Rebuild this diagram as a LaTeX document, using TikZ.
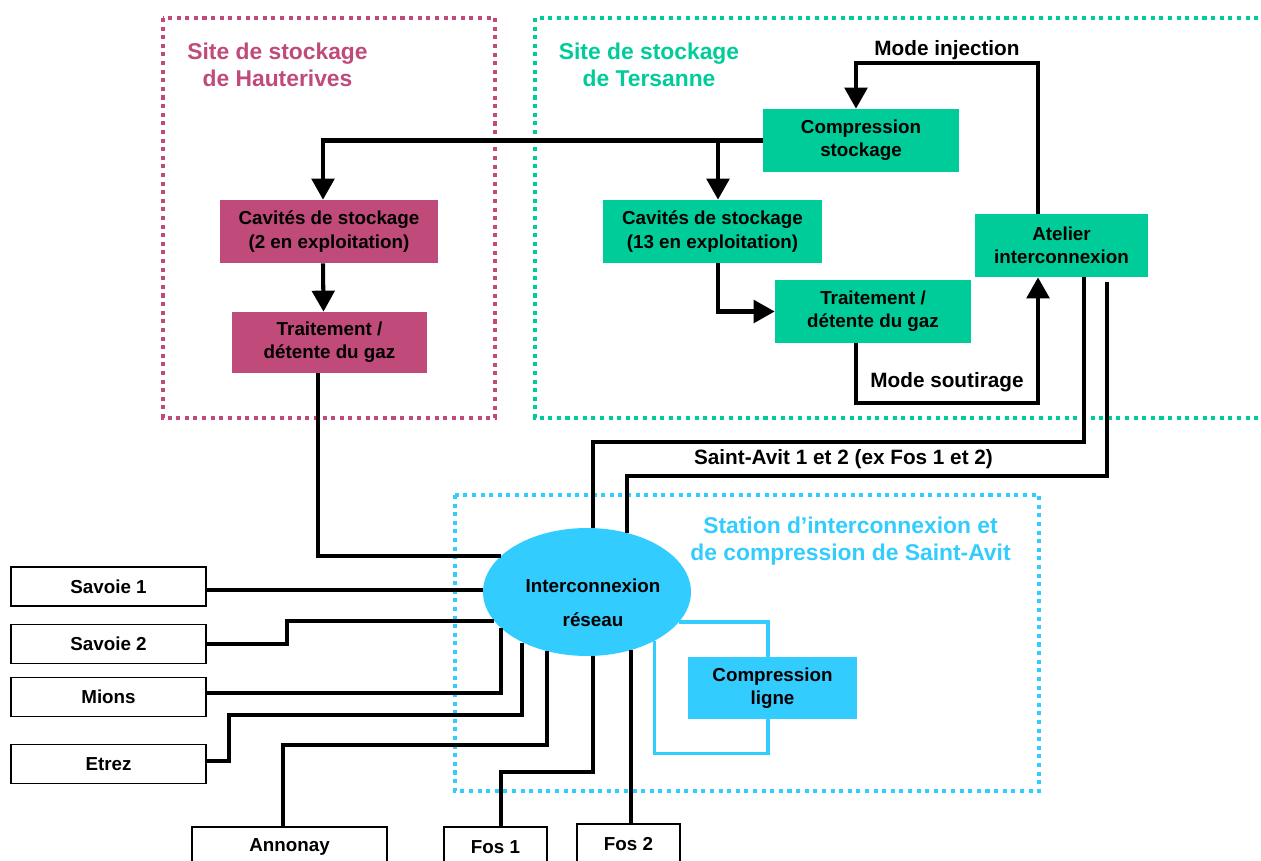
\documentclass[tikz,border=0pt]{standalone}
\usepackage{fontspec}
\setmainfont{Liberation Sans}
\usetikzlibrary{arrows.meta, shapes.geometric}

\definecolor{hautcol}{RGB}{192,74,122}
\definecolor{terscol}{RGB}{0,204,153}
\definecolor{avitcol}{RGB}{51,204,255}

\begin{document}
\begin{tikzpicture}[x=0.02cm, y=-0.02cm,
    boxtxt/.style={font=\fontsize{10.7}{13.2}\selectfont\bfseries, align=center, inner sep=0pt},
    proc/.style={boxtxt, rectangle, minimum height=1.26cm},
    hautbox/.style={proc, fill=hautcol},
    tersbox/.style={proc, fill=terscol},
    avitbox/.style={proc, fill=avitcol},
    ext/.style={boxtxt, rectangle, draw, line width=0.8pt, minimum width=3.9cm, minimum height=0.78cm},
    zone/.style={line width=2.3pt, dash pattern=on 2.3pt off 2.6pt},
    sitetitle/.style={font=\fontsize{13}{15.4}\selectfont\bfseries, align=center},
    modelbl/.style={font=\fontsize{11.8}{14}\selectfont\bfseries, inner sep=0pt},
    pipe/.style={line width=2.3pt},
    flow/.style={pipe, -{Triangle[length=0.42cm, width=0.45cm]}},
    loopline/.style={line width=2pt, avitcol}]

    \useasboundingbox (0,0) rectangle (1261,861);
    \clip (0,0) rectangle (1261,861);

    % Zones
    \draw[zone, hautcol] (163,18) rectangle (495,418);
    \draw[zone, terscol] (535,18) rectangle (1280,418);
    \draw[zone, avitcol] (455,495) rectangle (1039,791);
    \node (tHaut) [sitetitle, text=hautcol] at (277.5,65) {Site de stockage\\de Hauterives};
    \node (tTers) [sitetitle, text=terscol] at (649,65) {Site de stockage\\de Tersanne};
    \node (tAvit) [sitetitle, text=avitcol] at (850.5,541) {Station d’interconnexion et\\de compression de Saint-Avit};

    % Nodes
    \node (comps) [tersbox, minimum width=3.92cm] at (861,140.5) {Compression\\stockage};
    \node (cavT) [tersbox, minimum width=4.38cm] at (712.5,231.5) {Cavités de stockage\\(13 en exploitation)};
    \node (traitT) [tersbox, minimum width=3.92cm] at (873,311.5) {Traitement /\\détente du gaz};
    \node (atelier) [tersbox, minimum width=3.46cm] at (1061.5,245.5) {Atelier\\interconnexion};
    \node (cavH) [hautbox, minimum width=4.36cm] at (329,231.5) {Cavités de stockage\\(2 en exploitation)};
    \node (traitH) [hautbox, minimum width=3.9cm, minimum height=1.22cm] at (329.5,342.5) {Traitement /\\détente du gaz};
    \node (ell) [ellipse, fill=avitcol, minimum width=4.16cm, minimum height=2.56cm, inner sep=0pt] at (587,592) {};
    \node (ellTxt) [boxtxt, font=\fontsize{10.7}{19.4}\selectfont\bfseries] at (593,603) {Interconnexion\\réseau};
    \node (compL) [avitbox, minimum width=3.38cm, minimum height=1.24cm] at (772.5,688) {Compression\\ligne};

    \node (sav1) [ext] at (108.5,586.5) {Savoie 1};
    \node (sav2) [ext] at (108.5,644) {Savoie 2};
    \node (mions) [ext] at (108.5,697) {Mions};
    \node (etrez) [ext] at (108.5,764) {Etrez};
    \node (annonay) [ext, minimum height=0.8cm] at (289.5,847) {Annonay};
    \node (fos1) [ext, minimum width=2.06cm, minimum height=0.8cm] at (495.5,847) {Fos 1};
    \node (fos2) [ext, minimum width=2.06cm, minimum height=0.8cm] at (628.5,844) {Fos 2};

    \node (inj) [modelbl] at (947,50) {Mode injection};
    \node (sout) [modelbl] at (947,382) {Mode soutirage};
    \node (sa) [modelbl] at (843.5,459) {Saint-Avit 1 et 2 (ex Fos 1 et 2)};

    % Arrows
    \draw[flow] (comps.west) -| ([xshift=-0.12cm]cavH.north);
    \draw[flow] ([xshift=0.11cm]cavT.north |- comps.west) -- ([xshift=0.11cm]cavT.north);
    \draw[flow] ([xshift=-0.47cm]atelier.north) -- ++(0,-151) -| ([xshift=-0.1cm]comps.north);
    \draw[flow] ([xshift=0.11cm]cavT.south) |- (traitT.west);
    \draw[flow] ([xshift=-0.34cm]traitT.south) -- ++(0,60) -| ([xshift=-0.47cm]atelier.south);
    \draw[flow] ([xshift=-0.12cm]cavH.south) -- ([xshift=-0.12cm]traitH.north);

    % Pipes
    \draw[pipe] ([xshift=-0.23cm]traitH.south) |- (ell.157);
    \draw[pipe] ([xshift=0.45cm]atelier.south) -- ++(0,165) -| (ell.85);
    \draw[pipe] ([xshift=0.91cm, yshift=-0.1cm]atelier.south) -- ++(0,194) -| (ell.56);
    \draw[pipe] (ell.179) -- (ell.179 -| sav1.east);
    \draw[pipe] (sav2.east) -- ++(80,0) |- (ell.197);
    \draw[pipe] ([yshift=0.08cm]mions.east) -| (ell.203);
    \draw[pipe] ([yshift=0.06cm]etrez.east) -- ++(22,0) -- ++(0,-46) -| (ell.218);
    \draw[pipe] ([xshift=-0.13cm]annonay.north) -- ++(0,-81) -| (ell.236);
    \draw[pipe] ([xshift=0.11cm]fos1.north) -- ++(0,-54) -| (ell.275);
    \draw[pipe] (ell.307) -- (ell.307 |- fos2.north);

    % Compression ligne loop
    \draw[loopline] (ell.342) -| ([xshift=-0.09cm]compL.north);
    \draw[loopline] ([xshift=-0.09cm]compL.south) -- ++(0,34) -| (ell.324);

\end{tikzpicture}
\end{document}
